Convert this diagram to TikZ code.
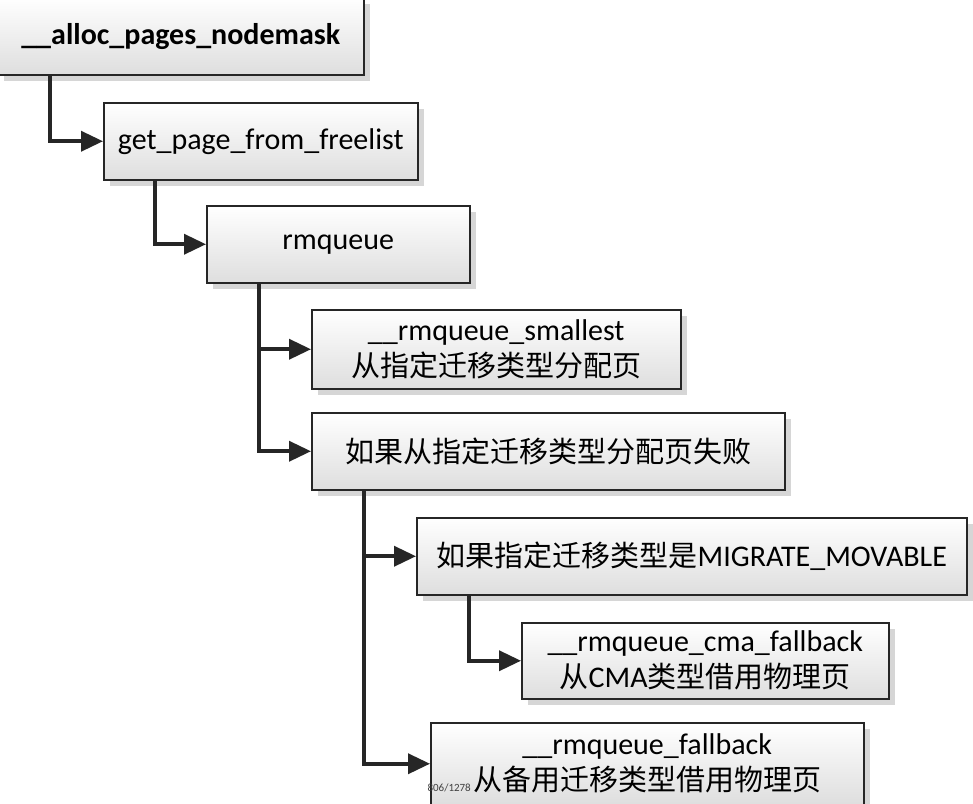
\documentclass[tikz,border=0pt]{standalone}
\usepackage{fontspec}
\setmainfont{Carlito}
\newfontfamily\cjk[Scale=0.967]{Noto Sans CJK SC}
\usetikzlibrary{arrows.meta,shadows}
\definecolor{edgecol}{HTML}{262626}
\definecolor{shadecol}{HTML}{DEDEDE}
\tikzset{
  box/.style={draw=edgecol, line width=1.5pt, anchor=north west, align=center,
    top color=white, bottom color=shadecol, inner sep=0pt,
    font=\fontsize{30}{36}\selectfont,
    drop shadow={shadow xshift=6pt, shadow yshift=-6pt, fill=black!16, opacity=1}},
  conn/.style={draw=edgecol, line width=3.6pt,
    -{Triangle[length=22pt,width=20pt]}}
}
\begin{document}
\begin{tikzpicture}[x=1pt,y=-1pt]
\useasboundingbox[fill=white] (0,0) rectangle (973,803);
\node[box, minimum width=366pt, minimum height=77pt, font=\fontsize{30}{36}\selectfont\bfseries] (n1) at (-3,-3) {\_\_alloc\_pages\_nodemask};
\node[box, minimum width=314pt, minimum height=77pt] (n2) at (103,102) {get\_page\_from\_freelist};
\node[box, minimum width=263pt, minimum height=77pt] (n3) at (206,205) {rmqueue};
\node[box, minimum width=369pt, minimum height=79pt] (n4) at (311,309) {\_\_rmqueue\_smallest\\{\cjk 从指定迁移类型分配页}};
\node[box, minimum width=473pt, minimum height=77pt] (n5) at (311,412) {{\cjk 如果从指定迁移类型分配页失败}};
\node[box, minimum width=550pt, minimum height=77pt] (n6) at (416,517) {{\cjk 如果指定迁移类型是}MIGRATE\_MOVABLE};
\node[box, minimum width=367pt, minimum height=76pt] (n7) at (521,622) {\_\_rmqueue\_cma\_fallback\\{\cjk 从}CMA{\cjk 类型借用物理页}};
\node[box, minimum width=433pt, minimum height=82pt] (n8) at (430,722) {\_\_rmqueue\_fallback\\{\cjk 从备用迁移类型借用物理页}};
\node[font=\fontsize{11}{12}\selectfont, text=black!75, inner sep=0pt, anchor=east] (wm) at (471,788) {806/1278};
\draw[conn] ([xshift=53pt]n1.south west) |- (n2.west);
\draw[conn] ([xshift=52pt]n2.south west) |- (n3.west);
\draw[conn] ([xshift=53pt]n3.south west) |- (n4.west);
\draw[conn] ([xshift=53pt]n3.south west) |- (n5.west);
\draw[conn] ([xshift=53pt]n5.south west) |- (n6.west);
\draw[conn] ([xshift=53pt]n5.south west) |- (n8.west);
\draw[conn] ([xshift=53pt]n6.south west) |- (n7.west);
\end{tikzpicture}
\end{document}
